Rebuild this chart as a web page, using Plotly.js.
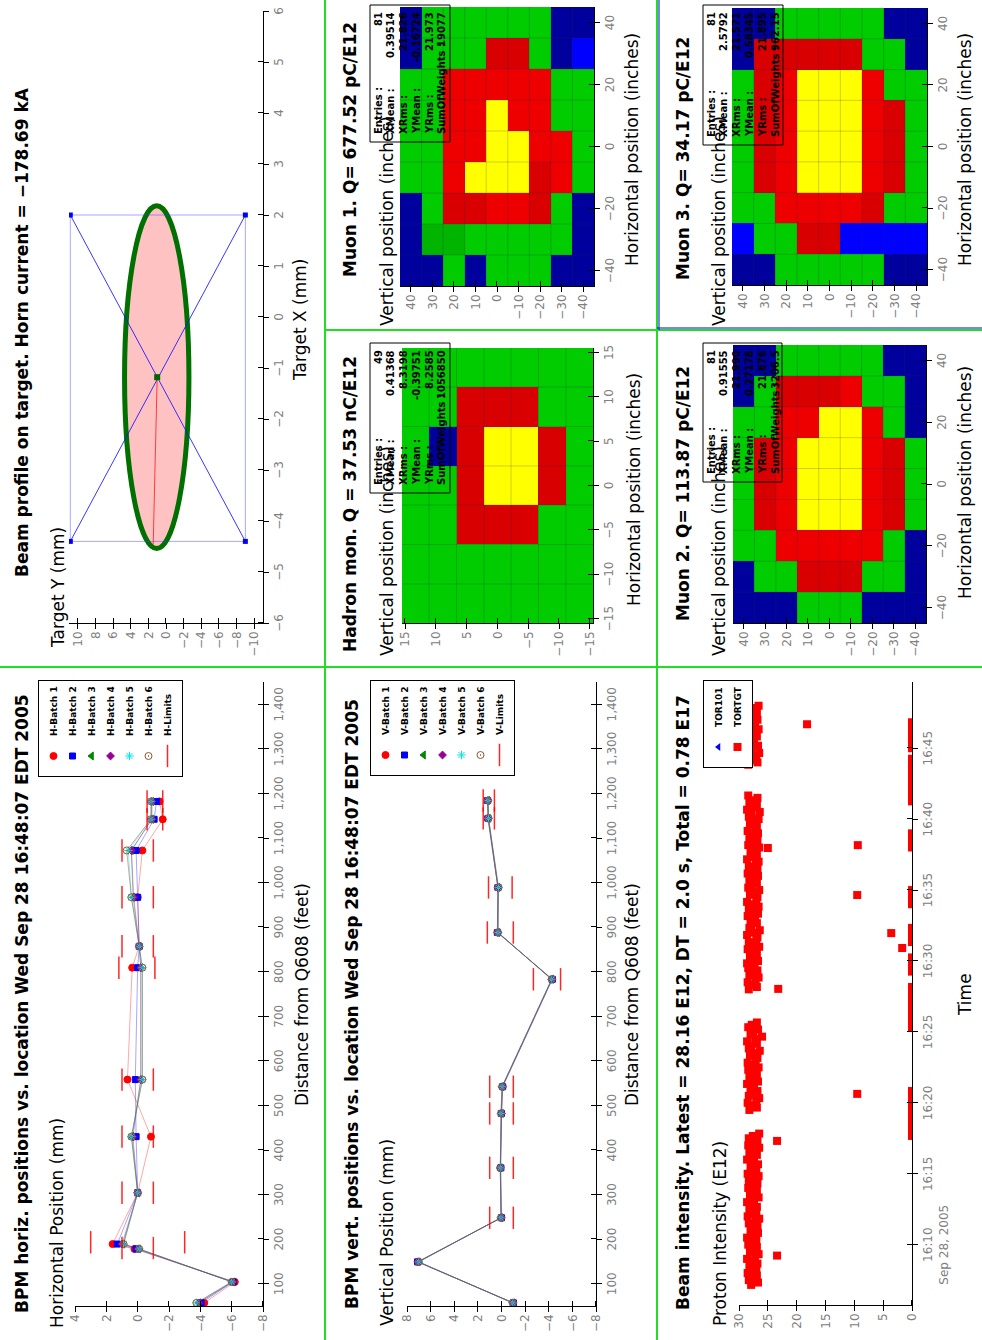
<!DOCTYPE html>
<html><head><meta charset="utf-8">
<script src="https://cdn.plot.ly/plotly-3.0.1.min.js"></script>
<style>
html,body{margin:0;padding:0;background:#fff;overflow:hidden;width:982px;height:1340px;}
#wrap{position:absolute;left:0;top:0;width:1340px;height:982px;transform-origin:0 0;transform:translate(0px,1340px) rotate(-90deg);}
#chart{width:1340px;height:982px;}
</style></head>
<body><div id="wrap"><div id="chart"></div></div>
<script>
// ================= DATA =================
// --- BPM horizontal positions (mm) vs distance from Q608 (feet)
const bpmHDist = [57,104,178,189,304,430,558,809,857,967,1072,1142,1182];
const hBatch1 = [-4.25,-6.2,0.2,1.6,0.0,-0.85,0.65,0.35,-0.1,0.0,-0.3,-1.6,-1.4];
const hBatch2 = [-4.05,-6.1,0.1,1.3,0.0,0.1,0.15,0.0,-0.1,0.0,0.1,-1.05,-1.2];
const hBatch3 = [-3.9,-6.05,-0.05,0.95,0.0,0.35,-0.2,-0.2,-0.1,0.3,0.4,-0.9,-0.9];
const hBatch4 = [-3.9,-6.05,-0.05,1.0,0.0,0.3,-0.2,-0.2,-0.1,0.25,0.4,-0.9,-0.9];
const hBatch5 = [-3.75,-6.0,-0.1,0.9,0.0,0.4,-0.3,-0.3,-0.1,0.4,0.6,-0.85,-0.85];
const hBatch6 = [-3.75,-6.0,-0.1,0.9,0.0,0.4,-0.3,-0.3,-0.1,0.4,0.7,-0.85,-0.85];
const hLimitDist = [180,180,193,193,304,304,430,430,558,558,809,809,857,857,967,967,1072,1072,1142,1142,1182,1182];
const hLimitVal  = [1,-1,3,-3,1,-1,1,-1,1,-1,1.2,-1.1,1,-1,1,-1,1,-1,-0.6,-1.6,-0.6,-1.6];

// --- BPM vertical positions (mm)
const bpmVDist = [57,149,248,360,482,542,783,888,989,1144,1184];
const vBatch1 = [-1.0,7.1,0.0,0.1,0.0,-0.1,-4.3,0.35,0.3,1.15,1.15];
const vBatch2 = [-1.0,7.1,0.0,0.05,0.0,-0.1,-4.3,0.35,0.3,1.15,1.2];
const vBatch3 = [-0.95,7.05,0.05,0.1,0.0,-0.05,-4.25,0.3,0.3,1.1,1.15];
const vBatch4 = [-0.95,7.05,0.05,0.1,0.0,-0.05,-4.25,0.3,0.3,1.1,1.15];
const vBatch5 = [-0.95,7.0,0.05,0.1,0.05,-0.05,-4.25,0.3,0.25,1.1,1.15];
const vBatch6 = [-0.95,7.0,0.05,0.1,0.05,-0.05,-4.25,0.3,0.25,1.1,1.15];
const vLimitDist = [248,248,360,360,482,482,542,542,783,783,888,888,989,989,1144,1144,1184,1184];
const vLimitVal  = [1,-1,1,-1,1,-1,1,-1,-2.7,-5.0,1.2,-1.0,1.1,-0.9,1.55,0.6,1.55,0.6];

// --- Beam profile on target (mm)
const targetX = [-4.4,2.0,2.0,-4.4,-4.4];
const targetY = [10.85,10.85,-9.0,-9.0,10.85];
const diagX = [-4.4,2.0,null,-4.4,2.0];
const diagY = [10.85,-9.0,null,-9.0,10.85];
const beamCenter = {x:-1.18, y:1.0};
const beamEllipse = {xmin:-4.54, xmax:2.18, ymin:-2.6, ymax:4.7};
const beamAxisX = [-1.18,-4.45];
const beamAxisY = [1.0,1.45];

// --- Beam intensity, TORTGT (E12); pulses plotted every 10 s
const sampleStep = 10;
const beamOnStarts = ['16:07:10','16:19:30','16:28:00','16:43:50'];
const beamOnA = [27.9,26.7,28.3,27.4,26.9,28.5,27.6,27.0,28.2,26.8, 27.7,28.6,27.2,26.6,28.1,27.8,26.9,28.4,27.3,27.0,
  28.6,27.5,26.7,28.0,27.9,26.8,28.3,27.1,26.5,28.5, 27.6,27.0,28.2,26.9,27.4,28.6,27.8,26.6,28.1,27.3,
  26.9,28.4,27.7,26.8,28.3,27.2,26.6,28.5,27.9,27.0, 28.0,26.7,27.5,28.6,27.4,26.9,28.2,27.8,26.5,28.4, 27.1,26.8,28.3,27.6,26.5];
const beamOnB = [28.2,26.9,27.6,28.5,27.0,26.5,28.3,27.8,26.8,28.0, 27.4,28.6,26.7,27.9,28.2,26.9,27.3,28.4,26.6,27.7,
  28.5,27.1,26.8,28.1,27.6,26.4,28.3,27.9,26.9,28.6, 27.2,26.0,28.0,27.5,26.7,28.4,27.8,26.9];
const beamOnC = [28.3,26.9,27.6,28.5,27.1,26.6,28.2,27.8,26.8,28.4, 27.3,28.6,26.7,27.9,28.1,26.9,27.4,28.5,26.5,27.7,
  28.3,27.0,26.8,28.6,27.5,26.4,28.2,27.9,26.9,28.0, 27.2,28.5,26.7,27.8,28.3,26.6,27.4,28.6,27.0,26.8,
  28.1,27.6,26.5,28.4,27.9,26.9,28.2,27.3,26.7,28.5, 27.7,26.8,28.3,27.1,26.6,28.6,27.8,26.9,28.0,27.4,
  26.5,28.4,27.6,26.8,28.2,27.9,26.7,28.5,27.2,26.9, 28.1,27.5,26.6,28.3,27.8,26.4,28.6,27.3,26.9,28.2, 27.7,26.8,28.4];
const beamOnD = [28.4,26.8,27.7,28.6,27.0,26.5,28.2,27.9,26.7,28.3, 27.4,28.5,26.9,27.6,28.1,26.6,27.8,28.6,27.2,26.8, 28.3,27.5,26.9,28.0,27.7,26.6];
const beamOffStarts = ['16:17:40','16:25:20','16:29:15','16:31:20','16:34:00','16:38:00','16:41:15','16:45:00','16:46:30'];
const beamOffValues = [
  [0,0,0,0,0,0,0,0,0,0,0,0,0,0,0,0,0,0,0,0],
  [0,0,0,0,0,0,0,0,0,0,0,0,0,0,0,0,0,0],
  [0,0,0,0,0,0,0],
  [0,0,0,0,0,0,0],
  [0,0,0,0,0,0,0],
  [0,0,0,0,0,0,0],
  [0,0,0,0,0,0,0,0,0,0,0,0,0,0,0,0,0,0,0],
  [0,0,0,0,0,0,0],
  [0,0,0]
];
const outlierTimes  = ['16:09:14','16:17:19','16:20:38','16:28:02','16:30:55','16:31:58','16:34:39','16:37:58','16:38:10','16:46:41'];
const outlierValues = [23.4,23.4,9.5,23.2,1.7,3.6,9.5,25.0,9.4,18.2];
const tor101Times = ['16:48:07'];
const tor101Values = [null];

// --- Hadron / muon monitors: colour level per pixel (0 dark blue,1 blue,2 dark green,3 green,4 dark red,5 red,6 yellow)
const hadronX = [-13.3,-8.9,-4.4,0,4.4,8.9,13.3];
const hadronY = [13.3,8.9,4.4,0,-4.4,-8.9,-13.3];
const hadronEdges = [-11.1,-6.65,-2.2,2.2,6.65,11.1];
const hadronZ = [
  [3,3,3,3,3,3,3],
  [3,3,3,3,0,3,3],
  [3,3,4,4,4,4,3],
  [3,3,4,6,6,4,3],
  [3,3,4,6,6,4,3],
  [3,3,3,4,4,3,3],
  [3,3,3,3,3,3,3]
];
const muonX = [-40,-30,-20,-10,0,10,20,30,40];
const muonY = [40,30,20,10,0,-10,-20,-30,-40];
const muonEdges = [-35,-25,-15,-5,5,15,25,35];
const muon1Z = [
  [0,0,0,3,3,3,3,0,0],
  [0,2,3,3,3,3,3,3,3],
  [3,2,4,5,5,5,5,3,3],
  [0,3,4,6,5,5,5,3,3],
  [3,3,5,6,6,6,5,4,3],
  [3,3,5,6,6,5,5,4,3],
  [3,3,4,4,5,5,5,3,3],
  [0,3,3,5,5,3,3,0,0],
  [0,0,0,3,3,3,3,1,0]
];
const muon2Z = [
  [0,0,3,3,3,3,3,0,0],
  [0,3,3,4,4,4,3,3,0],
  [0,3,5,5,5,5,5,4,3],
  [3,4,5,6,6,6,5,4,3],
  [3,4,5,6,6,6,6,4,3],
  [3,4,5,6,6,6,6,5,3],
  [0,3,5,5,5,5,5,3,3],
  [0,3,3,4,4,4,3,3,0],
  [0,0,0,3,3,3,0,0,0]
];
const muon3Z = [
  [0,1,3,3,3,3,3,0,0],
  [0,3,3,4,4,4,4,4,0],
  [3,3,5,5,5,5,5,4,3],
  [3,4,5,6,6,6,6,4,3],
  [3,4,5,6,6,6,6,4,3],
  [3,1,5,6,6,6,6,4,3],
  [3,1,4,5,5,5,5,3,3],
  [0,1,3,4,4,4,3,3,0],
  [0,1,3,3,3,3,3,0,0]
];
const hadronStats = ['49','0.41368','8.3198','-0.39751','8.2585','1056850'];
const muon1Stats  = ['81','0.39514','21.826','-0.16724','21.973','19077'];
const muon2Stats  = ['81','0.91555','21.990','0.27178','21.876','3206.5'];
const muon3Stats  = ['81','2.5792','21.571','0.58345','21.895','962.15'];
const statLabels  = ['Entries :','XMean :','XRms :','YMean :','YRms :','SumOfWeights :'];

// ================= HELPERS =================
const W = 1340, H = 982;
const px = v => v / W;
const py = v => 1 - v / H;
const FONT = 'DejaVu Sans, Verdana, sans-serif';

function ts(hms, addSeconds) {
  const p = hms.split(':').map(Number);
  const t = p[0]*3600 + p[1]*60 + p[2] + addSeconds;
  const f = n => String(n).padStart(2,'0');
  return '2005-09-28 ' + f(Math.floor(t/3600)) + ':' + f(Math.floor((t%3600)/60)) + ':' + f(Math.floor(t%60)) + '.' + String(Math.round((t%1)*1000)).padStart(3,'0');
}

const batchColor = ['#ff0000','#0000ff','#008800','#990099','#00e5e5','#a0522d'];
const batchLine  = ['rgba(255,0,0,0.35)','rgba(0,0,255,0.35)','rgba(0,128,0,0.35)','rgba(153,0,153,0.35)','rgba(0,190,190,0.35)','rgba(110,80,60,0.45)'];
const batchSymbol = ['circle','square','triangle-up','diamond','asterisk-open','circle-open-dot'];
const batchSize = [7,6,7,6,7,7];

const traces = [];
function bpmTraces(dist, batches, limD, limV, prefix, xa, ya, leg) {
  batches.forEach((vals, i) => traces.push({type:'scatter', mode:'lines', x:dist, y:vals, xaxis:xa, yaxis:ya,
    line:{color:batchLine[i], width:1}, showlegend:false, hoverinfo:'skip'}));
  batches.forEach((vals, i) => traces.push({type:'scatter', mode:'markers', x:dist, y:vals, xaxis:xa, yaxis:ya,
    name:'<b>' + prefix + '-Batch ' + (i+1) + '</b>', legend:leg,
    marker:{symbol:batchSymbol[i], size:batchSize[i], color:batchColor[i], line:{color:batchColor[i], width:1}}}));
  traces.push({type:'scatter', mode:'markers', x:limD, y:limV, xaxis:xa, yaxis:ya, name:'<b>' + prefix + '-Limits</b>', legend:leg,
    marker:{symbol:'line-ew-open', size:16, color:'rgba(255,0,0,0.85)', line:{color:'rgba(255,0,0,0.85)', width:1.5}}});
}
bpmTraces(bpmHDist, [hBatch1,hBatch2,hBatch3,hBatch4,hBatch5,hBatch6], hLimitDist, hLimitVal, 'H', 'x', 'y', 'legend');
bpmTraces(bpmVDist, [vBatch1,vBatch2,vBatch3,vBatch4,vBatch5,vBatch6], vLimitDist, vLimitVal, 'V', 'x3', 'y3', 'legend2');

// Beam profile
traces.push({type:'scatter', mode:'lines', x:targetX, y:targetY, xaxis:'x2', yaxis:'y2', line:{color:'rgba(60,60,255,0.45)', width:1}, showlegend:false, hoverinfo:'skip'});
traces.push({type:'scatter', mode:'lines', x:diagX, y:diagY, xaxis:'x2', yaxis:'y2', line:{color:'rgba(20,20,255,0.85)', width:1}, showlegend:false, hoverinfo:'skip'});
traces.push({type:'scatter', mode:'markers', x:targetX.slice(0,4), y:targetY.slice(0,4), xaxis:'x2', yaxis:'y2', marker:{symbol:'square', size:5, color:'#0000ff'}, showlegend:false, hoverinfo:'skip'});
traces.push({type:'scatter', mode:'lines', x:beamAxisX, y:beamAxisY, xaxis:'x2', yaxis:'y2', line:{color:'rgba(255,0,0,0.7)', width:1}, showlegend:false, hoverinfo:'skip'});
traces.push({type:'scatter', mode:'markers', x:[beamCenter.x], y:[beamCenter.y], xaxis:'x2', yaxis:'y2', marker:{symbol:'square', size:6, color:'#006400'}, showlegend:false, hoverinfo:'skip'});

// Beam intensity
const torX = [], torY = [];
[beamOnA,beamOnB,beamOnC,beamOnD].forEach((vals, s) => vals.forEach((v, i) => { torX.push(ts(beamOnStarts[s], i*sampleStep)); torY.push(v); }));
beamOffValues.forEach((vals, s) => vals.forEach((v, i) => { torX.push(ts(beamOffStarts[s], i*sampleStep)); torY.push(v); }));
outlierTimes.forEach((t, i) => { torX.push(ts(t, 0)); torY.push(outlierValues[i]); });
traces.push({type:'scatter', mode:'markers', x:tor101Times.map(t => ts(t, 0)), y:tor101Values, xaxis:'x6', yaxis:'y6', name:'<b>TOR101</b>', legend:'legend3',
  marker:{symbol:'triangle-up', size:7, color:'#0000ff'}});
traces.push({type:'scatter', mode:'markers', x:torX, y:torY, xaxis:'x6', yaxis:'y6', name:'<b>TORTGT</b>', legend:'legend3',
  marker:{symbol:'square', size:8, color:'#ff0000'}});

// Heatmaps
const levelScale = [
  [0/7,'#00009c'],[1/7,'#00009c'],[1/7,'#0000ff'],[2/7,'#0000ff'],[2/7,'#00b400'],[3/7,'#00b400'],
  [3/7,'#00cc00'],[4/7,'#00cc00'],[4/7,'#d80000'],[5/7,'#d80000'],[5/7,'#ee0000'],[6/7,'#ee0000'],[6/7,'#ffff00'],[1,'#ffff00']];
function heat(x, y, z, xa, ya) {
  traces.push({type:'heatmap', x:x, y:y, z:z, xaxis:xa, yaxis:ya, colorscale:levelScale, zmin:-0.5, zmax:6.5, showscale:false, hoverinfo:'skip'});
}
heat(hadronX, hadronY, hadronZ, 'x4', 'y4');
heat(muonX, muonY, muon1Z, 'x5', 'y5');
heat(muonX, muonY, muon2Z, 'x7', 'y7');
heat(muonX, muonY, muon3Z, 'x8', 'y8');

// ================= LAYOUT =================
const tickFont = {family:FONT, size:12, color:'#808080'};
function axis(dom, range, dtick, anchor, tick0, extra) {
  const isDate = extra && extra.type === 'date';
  const minor0 = isDate ? ts('16:00:00', 1.2) : tick0 + dtick * 0.004;
  return Object.assign({domain:dom, range:range, dtick:dtick, tick0:tick0, anchor:anchor, showgrid:false, zeroline:false,
    showline:true, linecolor:'#000', linewidth:1, ticks:'outside', ticklen:5, tickcolor:'#000', tickwidth:1,
    minor:{ticks:'inside', ticklen:5, tickcolor:'#000', tickwidth:1, dtick:dtick, tick0:minor0, showgrid:false},
    tickfont:tickFont, fixedrange:true}, extra || {});
}
const xd = (a, b) => [px(a), px(b)];
const yd = (top, bottom) => [py(bottom), py(top)];

const layout = {
  width:W, height:H, margin:{l:0,r:0,t:0,b:0}, paper_bgcolor:'#fff', plot_bgcolor:'#fff',
  font:{family:FONT, color:'#000'}, showlegend:true,
  xaxis:  axis(xd(34,658),  [50,1450], 100, 'y', 0, {separatethousands:true}),
  yaxis:  axis(yd(75,263),  [-8,4], 2, 'x', 0),
  xaxis2: axis(xd(717,1329), [-6,6], 1, 'y2', 0),
  yaxis2: axis(yd(69,263),  [-11,11], 2, 'x2', 0),
  xaxis3: axis(xd(34,658),  [50,1450], 100, 'y3', 0, {separatethousands:true}),
  yaxis3: axis(yd(407,596), [-8,8], 2, 'x3', 0),
  xaxis4: axis(xd(717,992), [-15.5,15.5], 5, 'y4', 0),
  yaxis4: axis(yd(402,593), [-15.5,15.5], 5, 'x4', 0),
  xaxis5: axis(xd(1054,1333), [-45,45], 20, 'y5', 0),
  yaxis5: axis(yd(400,594), [-45,45], 10, 'x5', 0),
  xaxis6: axis(xd(35,658), ['2005-09-28 16:05:45','2005-09-28 16:49:40'], 300000, 'y6', '2005-09-28 16:00:00', {type:'date'}),
  yaxis6: axis(yd(739,912), [0,30], 5, 'x6', 0),
  xaxis7: axis(xd(717,995), [-45,45], 20, 'y7', 0),
  yaxis7: axis(yd(733,926), [-45,45], 10, 'x7', 0),
  xaxis8: axis(xd(1055,1332), [-45,45], 20, 'y8', 0),
  yaxis8: axis(yd(732,927), [-45,45], 10, 'x8', 0),
  legend:  {x:px(660), xanchor:'right', y:py(38),  yanchor:'top', bgcolor:'#fff', bordercolor:'#000', borderwidth:1, font:{size:9, family:FONT}, itemwidth:30, tracegroupgap:0},
  legend2: {x:px(660), xanchor:'right', y:py(370), yanchor:'top', bgcolor:'#fff', bordercolor:'#000', borderwidth:1, font:{size:9, family:FONT}, itemwidth:30, tracegroupgap:0},
  legend3: {x:px(660), xanchor:'right', y:py(703), yanchor:'top', bgcolor:'#fff', bordercolor:'#000', borderwidth:1, font:{size:9, family:FONT}, itemwidth:30, tracegroupgap:0},
  shapes: [], annotations: []
};

// Beam ellipse (1-sigma profile) drawn in target coordinates
layout.shapes.push({type:'circle', xref:'x2', yref:'y2', x0:beamEllipse.xmin, x1:beamEllipse.xmax, y0:beamEllipse.ymin, y1:beamEllipse.ymax,
  line:{color:'#007000', width:5}, fillcolor:'rgba(255,70,70,0.33)', layer:'below'});

// Faint bin boundaries on the monitor maps
function binLines(edges, lo, hi, xa, ya) {
  edges.forEach(e => {
    layout.shapes.push({type:'line', xref:xa, yref:ya, x0:e, x1:e, y0:lo, y1:hi, line:{color:'rgba(40,40,90,0.22)', width:1}, layer:'above'});
    layout.shapes.push({type:'line', xref:xa, yref:ya, x0:lo, x1:hi, y0:e, y1:e, line:{color:'rgba(40,40,90,0.22)', width:1}, layer:'above'});
  });
}
binLines(hadronEdges, -15.5, 15.5, 'x4', 'y4');
binLines(muonEdges, -45, 45, 'x5', 'y5');
binLines(muonEdges, -45, 45, 'x7', 'y7');
binLines(muonEdges, -45, 45, 'x8', 'y8');

// Panel borders
const green = '#22dd22';
[[0,325,1340,325],[0,657,1340,657],[673,0,673,982],[1010,325,1010,982]].forEach(l =>
  layout.shapes.push({type:'line', xref:'paper', yref:'paper', x0:px(l[0]), y0:py(l[1]), x1:px(l[2]), y1:py(l[3]), line:{color:green, width:2}}));
layout.shapes.push({type:'line', xref:'paper', yref:'paper', x0:px(1010), y0:py(659), x1:px(1340), y1:py(659), line:{color:'#0000ff', width:1}});
layout.shapes.push({type:'line', xref:'paper', yref:'paper', x0:px(1012), y0:py(657), x1:px(1012), y1:py(982), line:{color:'#0000ff', width:1}});

function ann(text, x, y, opt) {
  layout.annotations.push(Object.assign({text:text, x:px(x), y:py(y), xref:'paper', yref:'paper', showarrow:false,
    xanchor:'center', yanchor:'middle', font:{family:FONT, size:17, color:'#000'}}, opt || {}));
}
const bold17 = {family:FONT, size:17, color:'#000'};
// Titles
ann('<b>BPM horiz. positions vs. location Wed Sep 28 16:48:07 EDT 2005</b>', 336, 22, {font:bold17});
ann('<b>Beam profile on target. Horn current = \u2212178.69 kA</b>', 1008, 22, {font:bold17});
ann('<b>BPM vert. positions vs. location Wed Sep 28 16:48:07 EDT 2005</b>', 336, 352, {font:bold17});
ann('<b>Hadron mon. Q = 37.53 nC/E12</b>', 836, 350, {font:bold17});
ann('<b>Muon 1. Q= 677.52 pC/E12</b>', 1190, 350, {font:bold17});
ann('<b>Beam intensity. Latest = 28.16 E12, DT = 2.0 s, Total = 0.78 E17</b>', 337, 683, {font:bold17});
ann('<b>Muon 2. Q= 113.87 pC/E12</b>', 847, 683, {font:bold17});
ann('<b>Muon 3. Q= 34.17 pC/E12</b>', 1181, 683, {font:bold17});
// Y-axis titles (horizontal, above axis)
ann('Horizontal Position (mm)', 10, 57, {xanchor:'left'});
ann('Target Y (mm)', 690, 58, {xanchor:'left'});
ann('Vertical Position (mm)', 12, 387, {xanchor:'left'});
ann('Vertical position (inches)', 682, 387, {xanchor:'left'});
ann('Vertical position (inches)', 1012, 387, {xanchor:'left'});
ann('Proton Intensity (E12)', 12, 720, {xanchor:'left'});
ann('Vertical position (inches)', 682, 719, {xanchor:'left'});
ann('Vertical position (inches)', 1012, 719, {xanchor:'left'});
// X-axis titles
ann('Distance from Q608 (feet)', 345, 302);
ann('Target X (mm)', 1020, 300);
ann('Distance from Q608 (feet)', 345, 632);
ann('Horizontal position (inches)', 850, 634);
ann('Horizontal position (inches)', 1190, 632);
ann('Time', 345, 965);
ann('Horizontal position (inches)', 857, 965);
ann('Horizontal position (inches)', 1190, 965);

// Statistics boxes
function stats(x0, y0, w, h, values) {
  layout.shapes.push({type:'rect', xref:'paper', yref:'paper', x0:px(x0), y0:py(y0), x1:px(x0+w), y1:py(y0+h), line:{color:'#000', width:1}, fillcolor:'rgba(0,0,0,0)'});
  statLabels.forEach((lab, i) => {
    const yy = y0 + 8 + 12.8*i;
    ann('<b>' + lab + '</b>', x0 + 6, yy, {xanchor:'left', font:{family:FONT, size:10, color:'#000'}});
    ann('<b>' + values[i] + '</b>', x0 + w - 5, yy, {xanchor:'right', font:{family:FONT, size:10, color:'#000'}});
  });
}
stats(847, 370, 150, 80, hadronStats);
stats(1198, 370, 137, 80, muon1Stats);
stats(858, 703, 139, 79, muon2Stats);
stats(1195, 703, 140, 80, muon3Stats);

Plotly.newPlot('chart', traces, layout, {staticPlot:true, displayModeBar:false});
</script>
</body></html>
